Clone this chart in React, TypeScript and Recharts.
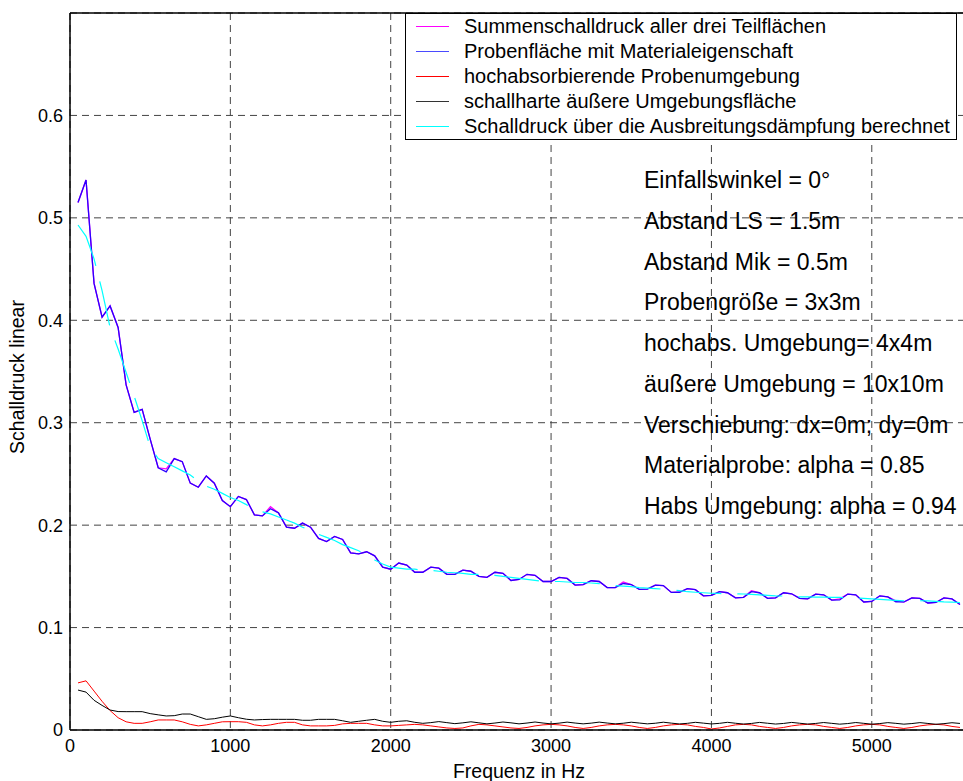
import React from "react";
import {
  LineChart,
  Line,
  CartesianGrid,
  XAxis,
  YAxis,
  Legend,
  ReferenceLine,
} from "recharts";

// frequency grid in Hz
const freqs = [
  50, 100, 150, 200, 250, 300, 350, 400, 450, 500,
  550, 600, 650, 700, 750, 800, 850, 900, 950, 1000,
  1050, 1100, 1150, 1200, 1250, 1300, 1350, 1400, 1450, 1500,
  1550, 1600, 1650, 1700, 1750, 1800, 1850, 1900, 1950, 2000,
  2050, 2100, 2150, 2200, 2250, 2300, 2350, 2400, 2450, 2500,
  2550, 2600, 2650, 2700, 2750, 2800, 2850, 2900, 2950, 3000,
  3050, 3100, 3150, 3200, 3250, 3300, 3350, 3400, 3450, 3500,
  3550, 3600, 3650, 3700, 3750, 3800, 3850, 3900, 3950, 4000,
  4050, 4100, 4150, 4200, 4250, 4300, 4350, 4400, 4450, 4500,
  4550, 4600, 4650, 4700, 4750, 4800, 4850, 4900, 4950, 5000,
  5050, 5100, 5150, 5200, 5250, 5300, 5350, 5400, 5450, 5500,
  5550,
];

// Probenfläche mit Materialeigenschaft
const probe = [
  0.515, 0.537, 0.436, 0.403, 0.414, 0.393, 0.337, 0.31, 0.313, 0.284,
  0.256, 0.252, 0.265, 0.262, 0.241, 0.237, 0.248, 0.241, 0.224, 0.218,
  0.228, 0.225, 0.21, 0.209, 0.216, 0.212, 0.198, 0.197, 0.202, 0.198,
  0.187, 0.184, 0.189, 0.186, 0.173, 0.172, 0.174, 0.17, 0.159, 0.157,
  0.163, 0.161, 0.154, 0.154, 0.159, 0.158, 0.152, 0.152, 0.156, 0.155,
  0.15, 0.149, 0.154, 0.153, 0.146, 0.147, 0.152, 0.151, 0.145, 0.145,
  0.149, 0.148, 0.1415, 0.142, 0.1457, 0.145, 0.139, 0.139, 0.143, 0.142,
  0.1373, 0.1375, 0.1415, 0.141, 0.1343, 0.1345, 0.138, 0.137, 0.131, 0.1315,
  0.135, 0.134, 0.129, 0.1295, 0.135, 0.134, 0.1285, 0.129, 0.134, 0.133,
  0.1285, 0.128, 0.1327, 0.132, 0.1268, 0.127, 0.1327, 0.132, 0.125, 0.1255,
  0.131, 0.13, 0.1252, 0.125, 0.129, 0.1285, 0.124, 0.1245, 0.129, 0.128,
  0.1225,
];

// Summenschalldruck aller drei Teilflächen (mostly hidden under the blue one)
const summe = [
  0.515, 0.537, 0.436, 0.403, 0.414, 0.393, 0.337, 0.31, 0.313, 0.284,
  0.256, 0.255, 0.265, 0.262, 0.241, 0.237, 0.248, 0.241, 0.224, 0.218,
  0.228, 0.225, 0.21, 0.209, 0.218, 0.212, 0.198, 0.197, 0.202, 0.198,
  0.187, 0.184, 0.189, 0.186, 0.173, 0.172, 0.174, 0.17, 0.159, 0.157,
  0.163, 0.161, 0.154, 0.154, 0.159, 0.158, 0.152, 0.152, 0.156, 0.155,
  0.15, 0.149, 0.154, 0.153, 0.146, 0.147, 0.152, 0.151, 0.145, 0.145,
  0.149, 0.148, 0.1415, 0.142, 0.1457, 0.145, 0.139, 0.139, 0.1445, 0.142,
  0.1373, 0.1375, 0.1415, 0.141, 0.1343, 0.1345, 0.138, 0.137, 0.131, 0.1315,
  0.135, 0.134, 0.129, 0.1295, 0.136, 0.134, 0.1285, 0.129, 0.134, 0.133,
  0.1285, 0.128, 0.1327, 0.132, 0.1268, 0.128, 0.1327, 0.132, 0.125, 0.1255,
  0.131, 0.13, 0.126, 0.125, 0.129, 0.1285, 0.124, 0.1245, 0.129, 0.128,
  0.1225,
];

// hochabsorbierende Probenumgebung
const habs = [
  0.046, 0.048, 0.038, 0.028, 0.019, 0.012, 0.008, 0.0065, 0.0065, 0.008,
  0.0098, 0.0098, 0.0098, 0.008, 0.0055, 0.004, 0.005, 0.0065, 0.008, 0.0081,
  0.0081, 0.0075, 0.005, 0.004, 0.005, 0.0065, 0.0075, 0.0075, 0.005, 0.004,
  0.004, 0.004, 0.0045, 0.006, 0.0065, 0.0065, 0.0065, 0.005, 0.004, 0.004,
  0.0045, 0.005, 0.0055, 0.005, 0.004, 0.003, 0.002, 0.0015, 0.002, 0.004,
  0.0055, 0.005, 0.004, 0.003, 0.002, 0.0015, 0.0025, 0.004, 0.005, 0.0055,
  0.005, 0.004, 0.0025, 0.0015, 0.0025, 0.004, 0.005, 0.0055, 0.005, 0.004,
  0.0025, 0.0015, 0.0025, 0.004, 0.005, 0.0055, 0.005, 0.0035, 0.0025, 0.001,
  0.002, 0.0035, 0.005, 0.0055, 0.005, 0.0035, 0.0025, 0.0015, 0.0025, 0.004,
  0.005, 0.0055, 0.005, 0.0035, 0.0025, 0.0015, 0.0025, 0.004, 0.005, 0.0055,
  0.005, 0.0035, 0.0025, 0.0015, 0.0025, 0.004, 0.005, 0.0055, 0.005, 0.0035,
  0.0025,
];

// schallharte äußere Umgebungsfläche
const hart = [
  0.039, 0.037, 0.029, 0.024, 0.0195, 0.018, 0.0179, 0.0179, 0.0179, 0.016,
  0.0148, 0.0137, 0.014, 0.0156, 0.0156, 0.013, 0.0104, 0.011, 0.0125, 0.0137,
  0.012, 0.0105, 0.0098, 0.0102, 0.0104, 0.0104, 0.0104, 0.0104, 0.0095, 0.0095,
  0.0104, 0.0104, 0.0104, 0.009, 0.0075, 0.0085, 0.0095, 0.0104, 0.0085, 0.0075,
  0.0085, 0.009, 0.0075, 0.0065, 0.0072, 0.0082, 0.0072, 0.0062, 0.007, 0.008,
  0.007, 0.006, 0.0068, 0.0078, 0.007, 0.006, 0.0068, 0.0078, 0.0068, 0.006,
  0.0067, 0.0077, 0.0068, 0.006, 0.0067, 0.0077, 0.0068, 0.006, 0.0066, 0.0076,
  0.0068, 0.006, 0.0066, 0.0076, 0.0067, 0.0059, 0.0065, 0.0075, 0.0067, 0.0059,
  0.0065, 0.0075, 0.0066, 0.0058, 0.0064, 0.0074, 0.0066, 0.0058, 0.0064, 0.0074,
  0.0066, 0.0058, 0.0064, 0.0073, 0.0065, 0.0057, 0.0063, 0.0073, 0.0065, 0.0057,
  0.0063, 0.0072, 0.0065, 0.0057, 0.0063, 0.0072, 0.0064, 0.0056, 0.0062, 0.0071,
  0.0064,
];

// Schalldruck über die Ausbreitungsdämpfung berechnet
const daempfung = [
  0.493, 0.482, 0.46, 0.429, 0.393, 0.372, 0.349, 0.326, 0.302, 0.276,
  0.265, 0.261, 0.257, 0.253, 0.249, 0.243, 0.238, 0.235, 0.231, 0.227,
  0.224, 0.22, 0.216, 0.213, 0.211, 0.208, 0.205, 0.202, 0.198, 0.195,
  0.191, 0.188, 0.185, 0.181, 0.178, 0.175, 0.171, 0.166, 0.162, 0.159,
  0.158, 0.157, 0.157, 0.156, 0.156, 0.155, 0.154, 0.1535, 0.153, 0.152,
  0.152, 0.152, 0.151, 0.15, 0.149, 0.148, 0.147, 0.146, 0.145, 0.145,
  0.145, 0.1445, 0.144, 0.144, 0.1435, 0.143, 0.142, 0.141, 0.1405, 0.14,
  0.139, 0.1385, 0.138, 0.1375, 0.137, 0.136, 0.135, 0.1345, 0.134, 0.1335,
  0.1333, 0.133, 0.133, 0.1328, 0.1325, 0.132, 0.1315, 0.131, 0.1308, 0.1305,
  0.13, 0.13, 0.1298, 0.1297, 0.1295, 0.1294, 0.129, 0.1288, 0.1285, 0.128,
  0.1275, 0.127, 0.1265, 0.126, 0.126, 0.1262, 0.126, 0.1255, 0.125, 0.1248,
  0.1245,
];

const xTicks = [0, 1000, 2000, 3000, 4000, 5000];
const yTicks = [0, 0.1, 0.2, 0.3, 0.4, 0.5, 0.6];

const seriesNames = [
  "Summenschalldruck aller drei Teilflächen",
  "Probenfläche mit Materialeigenschaft",
  "hochabsorbierende Probenumgebung",
  "schallharte äußere Umgebungsfläche",
  "Schalldruck über die Ausbreitungsdämpfung berechnet",
];
const seriesKeys = ["summe", "probe", "habs", "hart", "daempfung"];
const seriesColors = ["#ff00ff", "#2a00ff", "#ff0000", "#000000", "#00ffff"];
const legendColors = ["#ff00ff", "#4a4aff", "#ff0000", "#333333", "#00ffff"];

const infoLines = [
  "Einfallswinkel = 0°",
  "Abstand LS = 1.5m",
  "Abstand Mik = 0.5m",
  "Probengröße = 3x3m",
  "hochabs. Umgebung= 4x4m",
  "äußere Umgebung = 10x10m",
  "Verschiebung: dx=0m; dy=0m",
  "Materialprobe: alpha = 0.85",
  "Habs Umgebung: alpha = 0.94",
];

const data = freqs.map((f, i) => ({
  f,
  summe: summe[i],
  probe: probe[i],
  habs: habs[i],
  hart: hart[i],
  daempfung: daempfung[i],
}));

const FONT = '"Liberation Sans", Arial, Helvetica, sans-serif';

// legend drawn in the same order as the series were plotted
const LegendBox = () => (
  <div
    style={{
      position: "absolute",
      left: 405,
      top: 13,
      width: 552,
      height: 127,
      background: "#fff",
      border: "1px solid #000",
      boxSizing: "border-box",
      fontFamily: FONT,
      fontSize: 20,
      color: "#000",
    }}
  >
    {seriesNames.map((name, i) => (
      <div
        key={name}
        style={{
          position: "absolute",
          left: 0,
          top: 0 + i * 25,
          height: 25,
          display: "flex",
          alignItems: "center",
          whiteSpace: "nowrap",
        }}
      >
        <span
          style={{
            display: "inline-block",
            width: 33,
            height: 1,
            background: legendColors[i],
            marginLeft: 10,
            marginRight: 15,
          }}
        />
        {name}
      </div>
    ))}
  </div>
);

const App = () => {
  return (
    <div
      style={{
        position: "absolute",
        left: 0,
        top: 0,
        width: 963,
        height: 781,
        overflow: "hidden",
        background: "#fff",
        fontFamily: FONT,
      }}
    >
      <LineChart
        width={968}
        height={781}
        data={data}
        margin={{ top: 13, right: 0, bottom: 0, left: 0 }}
      >
        <CartesianGrid stroke="#444" strokeDasharray="7 5" />
        <XAxis
          dataKey="f"
          type="number"
          domain={[0, 5600]}
          ticks={xTicks}
          height={51}
          tickSize={0}
          tickMargin={9}
          tickLine={false}
          axisLine={{ stroke: "#000", strokeWidth: 1.5 }}
          tick={{ fill: "#000", fontSize: 18, fontFamily: FONT }}
          label={{
            value: "Frequenz in Hz",
            position: "insideBottom",
            offset: 3,
            fill: "#000",
            fontSize: 19.5,
            fontFamily: FONT,
          }}
        />
        <YAxis
          type="number"
          domain={[0, 0.7]}
          ticks={yTicks}
          width={70}
          tickSize={0}
          tickMargin={7}
          tickLine={false}
          axisLine={{ stroke: "#000", strokeWidth: 1.5 }}
          tick={{ fill: "#000", fontSize: 18, fontFamily: FONT }}
          label={{
            content: () => (
              <text
                x={17}
                y={377}
                transform="rotate(-90 17 377)"
                textAnchor="middle"
                dominantBaseline="central"
                fill="#000"
                fontSize={19.5}
                fontFamily={FONT}
              >
                Schalldruck linear
              </text>
            ),
          }}
        />
        <ReferenceLine y={0.7} stroke="#000" strokeWidth={1.5} />
        {seriesKeys.map((k, i) => (
          <Line
            key={k}
            dataKey={k}
            name={seriesNames[i]}
            stroke={seriesColors[i]}
            strokeWidth={k === "summe" || k === "probe" ? 1.3 : k === "daempfung" ? 1.2 : 1}
            strokeDasharray={k === "daempfung" ? "45 16" : undefined}
            dot={false}
            isAnimationActive={false}
          />
        ))}
        <Legend
          layout="vertical"
          align="center"
          verticalAlign="middle"
          content={<LegendBox />}
          wrapperStyle={{ position: "absolute", left: 0, top: 0, width: 0, height: 0 }}
        />
      </LineChart>
      {infoLines.map((t, i) => (
        <div
          key={t}
          style={{
            position: "absolute",
            left: 644,
            top: 160 + i * 40.75,
            height: 40,
            lineHeight: "40px",
            fontSize: 23,
            color: "#000",
            whiteSpace: "nowrap",
          }}
        >
          {t}
        </div>
      ))}
    </div>
  );
};

export default App;
